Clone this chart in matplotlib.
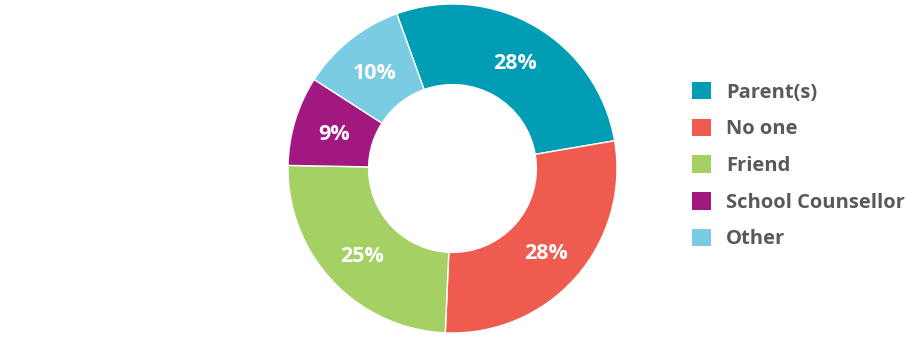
import matplotlib
matplotlib.use("Agg")
import matplotlib.pyplot as plt

# who students talked to
labels = ["Parent(s)", "No one", "Friend", "School Counsellor", "Other"]
values = [27.8, 28.4, 24.6, 8.8, 10.4]
colors = ["#019DB4", "#EF5B4F", "#A5D063", "#A21881", "#7BCCE2"]

plt.rcParams['font.family'] = ['Open Sans', 'DejaVu Sans']

fig = plt.figure(figsize=(9.07, 3.44), dpi=100)
cx, cy, r = 452.5, 168.5, 164.5
ax = fig.add_axes([(cx - r) / 907, (344 - cy - r) / 344, 2 * r / 907, 2 * r / 344])

wedges, texts, autotexts = ax.pie(
    values, colors=colors, startangle=109.8, counterclock=False,
    autopct='%.0f%%', pctdistance=0.755, radius=1,
    wedgeprops=dict(width=0.49, edgecolor='white', linewidth=1),
    textprops=dict(color='white', fontsize=15.5, fontweight='bold',
                   va='center_baseline'))
ax.set_xlim(-1, 1)
ax.set_ylim(-1, 1)
ax.set_aspect('equal')

leg = fig.legend(wedges, labels, loc='upper left', bbox_to_anchor=(692 / 907, 1 - 82 / 344),
                 frameon=False, handlelength=0.95, handleheight=0.95, handletextpad=0.75,
                 labelspacing=0.8, borderaxespad=0, borderpad=0,
                 prop=dict(size=14.5, weight='bold'))
for t in leg.get_texts():
    t.set_color('#595959')
for h in leg.legend_handles:
    h.set_edgecolor('none')

fig.savefig("out.png", dpi=100)
